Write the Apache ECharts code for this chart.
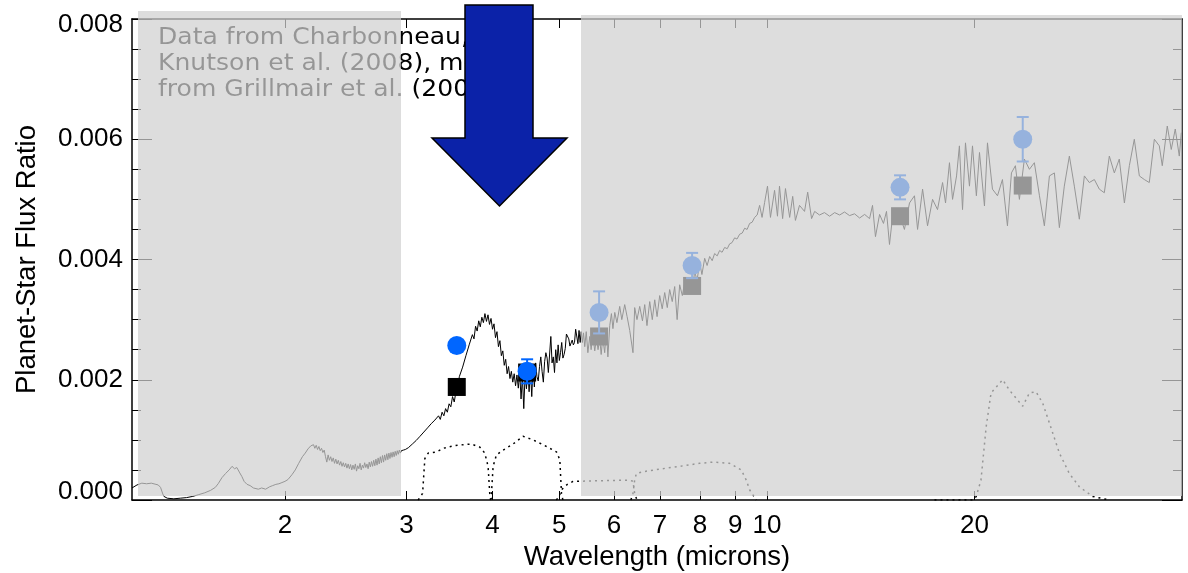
<!DOCTYPE html>
<html>
<head>
<meta charset="utf-8">
<script src="https://cdn.jsdelivr.net/npm/echarts@6/dist/echarts.min.js"></script>
<style>
html,body{margin:0;padding:0;background:#fff;}
#chart{width:1188px;height:573px;}
</style>
</head>
<body>
<div id="chart"></div>
<script>
// ---------- data (wavelength in microns, planet/star flux ratio) ----------
const xTickValues = [2, 3, 4, 5, 6, 7, 8, 9, 10, 20];
const xRange = [1.2, 40];
const yRange = [0, 0.008];
const yStep = 0.002;

// photometric points
const obsWave    = [3.55, 4.49, 5.71, 7.79, 15.6, 23.5];
const planetFlux = [0.00257, 0.00214, 0.00312, 0.0039, 0.0052, 0.006];
const planetErr  = [0.00008, 0.0002, 0.00035, 0.00021, 0.0002, 0.00037];
const bandModel  = [0.00188, 0.00212, 0.00272, 0.00356, 0.00472, 0.00523];

// model spectrum [wavelength, flux ratio]
const spectrum = [
[1.20,0.00020],[1.22,0.00025],[1.24,0.00028],[1.26,0.00027],[1.28,0.00028],[1.30,0.00026],[1.31,0.00025],[1.32,0.00021],
[1.33,0.00010],[1.335,0.00006],[1.35,0.00003],[1.38,0.00002],[1.41,0.00003],[1.44,0.00004],[1.47,0.00006],[1.50,0.00009],
[1.53,0.00012],[1.56,0.00016],[1.585,0.00021],[1.60,0.00027],[1.62,0.00037],[1.64,0.00044],[1.66,0.00050],[1.676,0.00056],
[1.69,0.00052],[1.703,0.00054],[1.72,0.00045],[1.732,0.00039],[1.745,0.00031],[1.762,0.00026],[1.78,0.00024],[1.80,0.00020],
[1.811,0.00021],[1.83,0.00018],[1.85,0.00020],[1.875,0.00018],[1.90,0.00022],[1.92,0.00024],[1.94,0.00026],[1.96,0.00027],
[1.98,0.00029],[2.00,0.00031],[2.02,0.00034],[2.047,0.00042],[2.07,0.00050],[2.094,0.00061],[2.12,0.00072],[2.14,0.00078],
[2.16,0.00085],[2.18,0.00090],[2.19,0.00088],[2.20,0.00092],[2.21,0.00086],[2.22,0.00091],[2.23,0.00084],[2.24,0.00089],
[2.25,0.00082],[2.26,0.00086],[2.27,0.00079],[2.28,0.00083],[2.29,0.00072],[2.30,0.00063],[2.31,0.00075],[2.32,0.00066],
[2.33,0.00072],[2.34,0.00064],[2.35,0.00070],[2.36,0.00061],[2.37,0.00068],[2.38,0.00060],[2.39,0.00066],[2.40,0.00058],
[2.41,0.00064],[2.42,0.00056],[2.43,0.00062],[2.44,0.00055],[2.45,0.00061],[2.46,0.00053],[2.47,0.00060],[2.48,0.00052],
[2.49,0.00059],[2.50,0.00050],[2.51,0.00058],[2.52,0.00051],[2.53,0.00060],[2.54,0.00048],[2.55,0.00057],[2.56,0.00052],
[2.57,0.00061],[2.58,0.00050],[2.59,0.00058],[2.60,0.00053],[2.61,0.00062],[2.62,0.00054],[2.63,0.00060],[2.64,0.00052],
[2.65,0.00063],[2.66,0.00055],[2.67,0.00064],[2.68,0.00056],[2.69,0.00066],[2.70,0.00057],[2.71,0.00068],[2.72,0.00058],
[2.73,0.00070],[2.74,0.00060],[2.75,0.00072],[2.76,0.00062],[2.77,0.00074],[2.78,0.00063],[2.79,0.00075],[2.80,0.00066],
[2.81,0.00077],[2.82,0.00067],[2.83,0.00078],[2.84,0.00069],[2.85,0.00079],[2.86,0.00071],[2.87,0.00080],[2.88,0.00072],
[2.89,0.00081],[2.90,0.00074],[2.91,0.00082],[2.92,0.00076],[2.93,0.00083],[2.94,0.00078],[2.95,0.00082],[2.96,0.00079],
[2.97,0.00083],[2.98,0.00080],[2.99,0.00084],
[3.00,0.00082],[3.02,0.00087],[3.04,0.00086],[3.06,0.00093],[3.08,0.00092],[3.10,0.00099],[3.12,0.00100],[3.14,0.00106],
[3.16,0.00105],[3.18,0.00113],[3.20,0.00112],[3.22,0.00120],[3.24,0.00117],[3.26,0.00127],[3.28,0.00124],[3.30,0.00133],
[3.32,0.00130],[3.34,0.00140],[3.36,0.00134],[3.38,0.00146],[3.40,0.00140],[3.42,0.00152],[3.44,0.00146],[3.46,0.00160],
[3.48,0.00155],[3.50,0.00172],[3.52,0.00163],[3.54,0.00180],[3.56,0.00186],[3.58,0.00205],[3.60,0.00203],[3.62,0.00221],
[3.64,0.00222],[3.66,0.00240],[3.68,0.00238],[3.70,0.00258],[3.72,0.00255],[3.74,0.00275],[3.76,0.00268],[3.78,0.00289],
[3.80,0.00281],[3.82,0.00298],[3.84,0.00288],[3.86,0.00304],[3.88,0.00295],[3.90,0.00310],[3.92,0.00297],[3.94,0.00308],
[3.96,0.00292],[3.98,0.00302],[4.00,0.00284],[4.02,0.00293],[4.04,0.00270],[4.06,0.00280],[4.08,0.00255],[4.10,0.00265],
[4.12,0.00240],[4.14,0.00248],[4.16,0.00224],[4.18,0.00234],[4.20,0.00210],[4.22,0.00222],[4.24,0.00202],[4.26,0.00214],
[4.28,0.00196],[4.30,0.00210],[4.32,0.00190],[4.34,0.00208],[4.36,0.00186],[4.38,0.00212],[4.40,0.00168],[4.42,0.00205],
[4.44,0.00152],[4.46,0.00210],[4.48,0.00185],[4.50,0.00215],[4.52,0.00180],[4.54,0.00218],[4.56,0.00172],[4.58,0.00222],
[4.60,0.00188],[4.62,0.00228],[4.64,0.00205],[4.66,0.00198],[4.68,0.00222],[4.70,0.00238],[4.72,0.00214],[4.74,0.00196],
[4.76,0.00230],[4.78,0.00245],[4.80,0.00236],[4.82,0.00212],[4.84,0.00215],[4.86,0.00272],[4.88,0.00228],[4.90,0.00238],
[4.92,0.00212],[4.94,0.00250],[4.96,0.00228],[4.98,0.00258],[5.00,0.00232],[5.02,0.00245],[5.04,0.00262],[5.06,0.00236],
[5.08,0.00242],[5.10,0.00252],[5.12,0.00276],[5.14,0.00274],[5.16,0.00268],[5.18,0.00256],[5.20,0.00255],[5.22,0.00266],
[5.24,0.00258],[5.26,0.00262],[5.28,0.00284],[5.30,0.00283],[5.32,0.00260],[5.34,0.00282],[5.36,0.00262],[5.38,0.00280],
[5.40,0.00262],[5.42,0.00278],[5.443,0.00255],[5.47,0.00280],[5.50,0.00245],[5.535,0.00272],[5.56,0.00250],[5.59,0.00275],
[5.628,0.00248],[5.66,0.00270],[5.69,0.00250],[5.722,0.00268],[5.75,0.00242],[5.78,0.00270],[5.818,0.00245],[5.85,0.00285],
[5.88,0.00238],[5.917,0.00290],[5.95,0.00310],[5.98,0.00285],[6.017,0.00312],[6.06,0.00295],[6.117,0.00322],[6.16,0.00300],
[6.22,0.00325],[6.27,0.00305],[6.325,0.00282],[6.394,0.00245],[6.431,0.00320],[6.48,0.00300],[6.54,0.00322],[6.60,0.00298],
[6.65,0.00325],[6.70,0.00290],[6.762,0.00330],[6.82,0.00300],[6.876,0.00333],[6.93,0.00305],[6.991,0.00340],[7.05,0.00318],
[7.109,0.00345],[7.17,0.00320],[7.228,0.00350],[7.29,0.00330],[7.35,0.00355],[7.41,0.00300],[7.473,0.00358],[7.54,0.00340],
[7.599,0.00362],[7.66,0.00350],[7.727,0.00370],[7.79,0.00345],[7.857,0.00380],[7.92,0.00365],[7.989,0.00395],[8.05,0.00375],
[8.124,0.00402],[8.19,0.00390],[8.26,0.00405],[8.33,0.00398],[8.399,0.00410],[8.47,0.00406],[8.54,0.00415],[8.61,0.00412],
[8.684,0.00420],[8.76,0.00418],[8.83,0.00426],[8.90,0.00428],[8.979,0.00436],[9.05,0.00434],[9.13,0.00442],[9.21,0.00444],
[9.284,0.00452],[9.36,0.00450],[9.44,0.00460],[9.52,0.00462],[9.599,0.00470],[9.68,0.00474],[9.76,0.00490],[9.84,0.00470],
[9.925,0.00495],[10.02,0.00522],[10.12,0.00470],[10.26,0.00515],[10.36,0.00472],[10.43,0.00522],[10.54,0.00468],[10.64,0.00518],
[10.79,0.00470],[10.90,0.00505],[11.00,0.00465],[11.15,0.00490],[11.34,0.00480],[11.46,0.00512],[11.61,0.00468],[11.73,0.00480],
[11.92,0.00474],[12.12,0.00478],[12.33,0.00472],[12.54,0.00478],[12.75,0.00474],[12.96,0.00479],[13.18,0.00473],[13.40,0.00476],
[13.63,0.00469],[13.86,0.00475],[14.09,0.00468],[14.23,0.00490],[14.37,0.00438],[14.57,0.00475],[14.76,0.00460],[14.91,0.00480],
[15.06,0.00425],[15.21,0.00470],[15.36,0.00460],[15.57,0.00475],[15.83,0.00450],[16.10,0.00494],[16.37,0.00506],[16.54,0.00450],
[16.82,0.00517],[17.10,0.00456],[17.39,0.00500],[17.68,0.00483],[17.98,0.00528],[18.16,0.00494],[18.40,0.00561],[18.59,0.00500],
[18.84,0.00539],[19.02,0.00589],[19.22,0.00483],[19.41,0.00594],[19.67,0.00522],[19.87,0.00589],[20.13,0.00506],[20.34,0.00578],
[20.68,0.00489],[20.89,0.00594],[21.24,0.00517],[21.60,0.00506],[21.96,0.00533],[22.33,0.00456],[22.63,0.00544],[22.93,0.00556],
[23.24,0.00500],[23.63,0.00567],[24.03,0.00550],[24.43,0.00561],[24.85,0.00506],[25.26,0.00456],[25.69,0.00539],[26.12,0.00544],
[26.56,0.00453],[27.00,0.00522],[27.46,0.00572],[27.92,0.00522],[28.39,0.00467],[28.87,0.00539],[29.35,0.00528],[29.85,0.00533],
[30.35,0.00517],[30.86,0.00511],[31.38,0.00572],[31.91,0.00544],[32.44,0.00567],[33.00,0.00494],[33.55,0.00556],[34.11,0.00600],
[34.69,0.00539],[35.27,0.00533],[35.86,0.00528],[36.47,0.00600],[37.08,0.00589],[37.45,0.00556],[38.08,0.00622],[38.59,0.00583],
[39.11,0.00617],[39.64,0.00572],[39.91,0.00611]
];

// band-pass response curves (scaled, arbitrary units on the flux axis)
const filter36 = [[3.12,0],[3.167,0.00011],[3.191,0.00069],[3.227,0.00078],[3.319,0.0008],[3.392,0.00086],[3.507,0.0009],
  [3.626,0.00092],[3.729,0.00093],[3.833,0.00088],[3.898,0.00078],[3.941,0.00056],[3.963,0.00011],[4.0,0]];
const filter45 = [[3.97,0],[3.986,0.00011],[4.008,0.00056],[4.053,0.00075],[4.144,0.00083],[4.283,0.00093],[4.429,0.00106],
  [4.579,0.001],[4.789,0.00089],[4.952,0.0008],[5.008,0.00067],[5.025,0.00033],[5.036,0.00011],[5.06,0]];
const filter58 = [[4.95,0],[4.996,0.00006],[5.036,0.00017],[5.122,0.00025],[5.234,0.00031],[5.72,0.00032],[6.324,0.00033],
  [6.394,0.00031],[6.43,0.00011],[6.48,0]];
const filter80 = [[6.35,0],[6.394,0.00011],[6.43,0.00033],[6.467,0.00044],[6.61,0.00047],[7.148,0.00053],[7.471,0.00056],
  [7.987,0.00061],[8.349,0.00063],[8.829,0.00061],[9.181,0.0005],[9.335,0.00033],[9.439,0.00017],[9.652,0]];
const filter24 = [[17.5,0],[19.9,0],[20.12,0.00006],[20.44,0.00033],[20.8,0.00122],[21.14,0.00178],[21.98,0.002],[22.47,0.00183],
  [23.5,0.00156],[24.03,0.00178],[24.57,0.0018],[25.12,0.00161],[25.69,0.00128],[26.56,0.00078],[27.46,0.00044],[28.39,0.00022],
  [29.68,0.00006],[31.38,0]];

const noteLines = ['Data from Charbonneau,', 'Knutson et al. (2008), model', 'from Grillmair et al. (2008)'];

// ---------- chart ----------
const lg = w => Math.log10(w);
const toLog = arr => arr.map(p => [lg(p[0]), p[1]]);
const AX = 'Liberation Sans';
const tickLogs = xTickValues.map(lg);

const chart = echarts.init(document.getElementById('chart'), null, {renderer: 'canvas'});

const xAxisBase = {
  type: 'value', min: lg(xRange[0]), max: lg(xRange[1]),
  axisLine: {show: true, onZero: false, lineStyle: {color: '#000', width: 1.5}},
  splitLine: {show: false},
  axisTick: {show: true, inside: true, length: 9, customValues: tickLogs, lineStyle: {color: '#000', width: 1}},
};
const yAxisBase = {
  type: 'value', min: yRange[0], max: yRange[1], interval: yStep,
  axisLine: {show: true, onZero: false, lineStyle: {color: '#000', width: 1.5}},
  splitLine: {show: false},
  axisTick: {show: true, inside: true, length: 20, lineStyle: {color: '#000', width: 1}},
  minorTick: {show: true, splitNumber: 4, length: 9, lineStyle: {color: '#000', width: 1}},
  minorSplitLine: {show: false}
};

const errColor = '#0066ff';
const errData = obsWave.map((w, i) => [lg(w), planetFlux[i] - planetErr[i], planetFlux[i] + planetErr[i]]);

const noteFont = '23px "DejaVu Sans"';

const option = {
  animation: false,
  backgroundColor: '#ffffff',
  grid: {left: 132, right: 6, top: 19, bottom: 73, containLabel: false, outerBoundsMode: 'none'},
  xAxis: [
    Object.assign({}, xAxisBase, {
      position: 'bottom',
      name: 'Wavelength (microns)', nameLocation: 'middle', nameGap: 37,
      nameTextStyle: {color: '#000', fontSize: 27.5, fontFamily: AX},
      axisLabel: {show: true, customValues: tickLogs, margin: 13, color: '#000', fontSize: 26, fontFamily: AX,
        formatter: v => String(Math.round(Math.pow(10, v)))}
    }),
    Object.assign({}, xAxisBase, {position: 'top', axisLabel: {show: false}})
  ],
  yAxis: [
    Object.assign({}, yAxisBase, {
      position: 'left',
      name: 'Planet-Star Flux Ratio', nameLocation: 'middle', nameGap: 91,
      nameTextStyle: {color: '#000', fontSize: 27.5, fontFamily: AX},
      axisLabel: {show: true, margin: 9, color: '#000', fontSize: 26, fontFamily: AX,
        verticalAlignMaxLabel: 'top',
        formatter: v => {
          const s = v.toFixed(3);
          if (Math.abs(v - yRange[0]) < 1e-9) return '{lo|' + s + '}';
          if (Math.abs(v - yRange[1]) < 1e-9) return '{hi|' + s + '}';
          return s;
        },
        rich: {
          lo: {fontSize: 26, fontFamily: AX, color: '#000', padding: [0, 0, 16, 0]},
          hi: {fontSize: 26, fontFamily: AX, color: '#000', lineHeight: 12}
        }}
    }),
    Object.assign({}, yAxisBase, {position: 'right', axisLabel: {show: false}})
  ],
  series: [
    {type: 'line', name: 'filter36', data: toLog(filter36), showSymbol: false, z: 2,
      lineStyle: {color: '#000', width: 1.5, type: [2, 4]}},
    {type: 'line', name: 'filter45', data: toLog(filter45), showSymbol: false, z: 2,
      lineStyle: {color: '#000', width: 1.5, type: [2, 4]}},
    {type: 'line', name: 'filter58', data: toLog(filter58), showSymbol: false, z: 2,
      lineStyle: {color: '#000', width: 1.5, type: [2, 4]}},
    {type: 'line', name: 'filter80', data: toLog(filter80), showSymbol: false, z: 2,
      lineStyle: {color: '#000', width: 1.5, type: [2, 4]}},
    {type: 'line', name: 'filter24', data: toLog(filter24), showSymbol: false, z: 2,
      lineStyle: {color: '#000', width: 1.5, type: [2, 4]}},
    {type: 'line', name: 'model', data: toLog(spectrum), showSymbol: false, z: 3,
      lineStyle: {color: '#000', width: 1}},
    {type: 'scatter', name: 'band-averaged model', z: 4,
      data: obsWave.map((w, i) => [lg(w), bandModel[i]]),
      symbol: 'rect', symbolSize: 18, itemStyle: {color: '#000', opacity: 1}},
    {type: 'custom', name: 'errors', z: 5,
      data: errData, encode: {x: 0, y: [1, 2]},
      renderItem: (params, api) => {
        const x = api.value(0);
        const top = api.coord([x, api.value(2)]);
        const bot = api.coord([x, api.value(1)]);
        const hw = 6;
        const st = {stroke: errColor, lineWidth: 2};
        return {type: 'group', children: [
          {type: 'line', shape: {x1: top[0], y1: top[1], x2: bot[0], y2: bot[1]}, style: st},
          {type: 'line', shape: {x1: top[0] - hw, y1: top[1], x2: top[0] + hw, y2: top[1]}, style: st},
          {type: 'line', shape: {x1: bot[0] - hw, y1: bot[1], x2: bot[0] + hw, y2: bot[1]}, style: st}
        ]};
      }},
    {type: 'scatter', name: 'planet', z: 6,
      data: obsWave.map((w, i) => [lg(w), planetFlux[i]]),
      symbol: 'circle', symbolSize: 19, itemStyle: {color: errColor, opacity: 1}}
  ],
  graphic: [
    {type: 'text', x: 158, y: 25, scaleX: 1.09, z: 50,
      style: {text: noteLines.join('\n'), font: noteFont, fill: '#000', lineHeight: 26, verticalAlign: 'top', align: 'left'}},
    {type: 'rect', z: 100, shape: {x: 138, y: 11, width: 263, height: 485},
      style: {fill: 'rgba(208,208,208,0.72)'}},
    {type: 'rect', z: 100, shape: {x: 581, y: 15, width: 601, height: 481},
      style: {fill: 'rgba(208,208,208,0.72)'}},
    {type: 'polygon', z: 150,
      shape: {points: [[465, 5], [533, 5], [533, 138], [567, 138], [499.5, 206], [432, 138], [465, 138]]},
      style: {fill: '#0b22a8', stroke: '#000', lineWidth: 1.5}}
  ]
};
chart.setOption(option);
</script>
</body>
</html>
